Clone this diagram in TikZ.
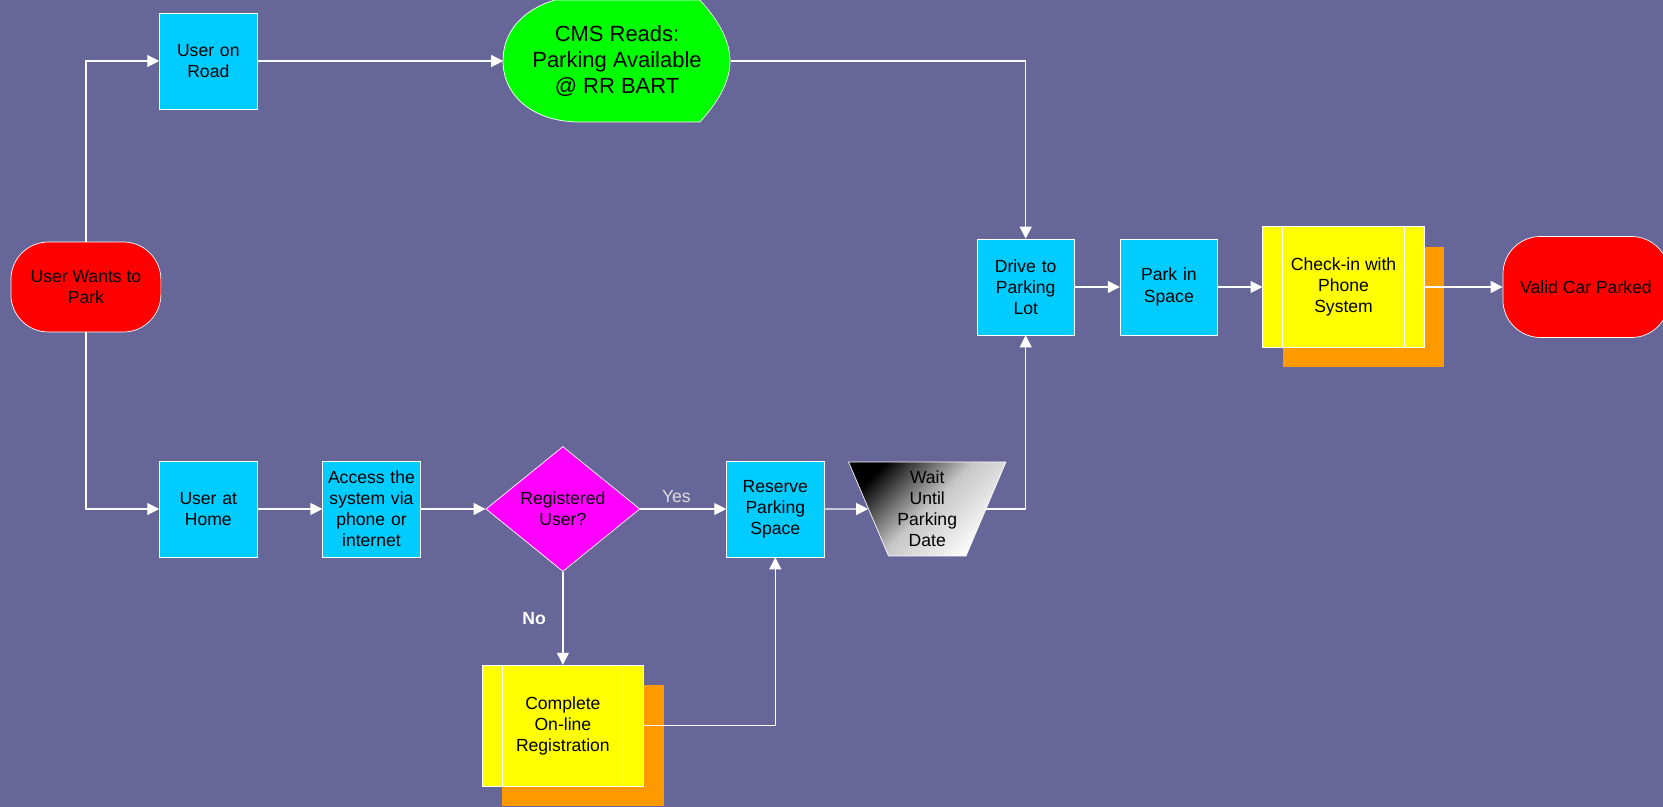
\documentclass[tikz,border=0pt]{standalone}
\usepackage{fontspec}
\setmainfont{Liberation Sans}
\usetikzlibrary{shapes.geometric, shadows, arrows.meta, positioning}
\definecolor{bgblue}{HTML}{666699}
\definecolor{boxcyan}{HTML}{00CCFF}
\definecolor{cmsgreen}{HTML}{00FF00}
\definecolor{decmagenta}{HTML}{FF00FF}
\definecolor{docyellow}{HTML}{FFFF00}
\definecolor{shadoworange}{HTML}{FF9900}
\definecolor{termred}{HTML}{FF0000}
\definecolor{yesgray}{HTML}{DDDDDD}

\begin{document}
\begin{tikzpicture}[
    x=0.02cm, y=-0.02cm,
    font=\fontsize{10}{12}\selectfont,
    proc/.style={rectangle, draw=white, fill=boxcyan, thin, text width=1.8cm, align=center, inner sep=0pt, minimum width=1.95cm, minimum height=1.92cm},
    term/.style={rectangle, draw=white, fill=termred, thin, rounded corners=0.75cm, align=center, inner sep=0pt, minimum width=3cm, minimum height=1.8cm},
    decision/.style={diamond, draw=white, fill=decmagenta, thin, align=center, inner sep=0pt, minimum width=3.08cm, minimum height=2.5cm},
    predef/.style={rectangle, draw=white, fill=docyellow, thin, align=center, minimum width=3.23cm, minimum height=2.42cm,
        drop shadow={shadow xshift=0.4cm, shadow yshift=-0.4cm, fill=shadoworange, opacity=1},
        path picture={\draw[white, thin] ([xshift=0.4cm]path picture bounding box.north west) -- ([xshift=0.4cm]path picture bounding box.south west)
            ([xshift=-0.4cm]path picture bounding box.north east) -- ([xshift=-0.4cm]path picture bounding box.south east);}},
    manual/.style={trapezium, trapezium left angle=112, trapezium right angle=112, trapezium stretches=true,
        draw=white, thin, top color=black, bottom color=white, middle color=black!22, shading angle=45,
        align=center, inner sep=0pt, minimum width=3.15cm, minimum height=1.88cm},
    arrow/.style={-{Triangle[length=6.8pt, width=6.8pt]}, line width=0.7pt, draw=white}
]
    \useasboundingbox (0,0) rectangle (1663,807);
    \fill[bgblue] (0,0) rectangle (1663,807);

    \filldraw[fill=cmsgreen, draw=white, thin] (555,0) -- (700,0) .. controls (718,20) and (730,40) .. (730,61)
        .. controls (730,82) and (718,102) .. (700,122) -- (580,122)
        .. controls (532,122) and (503,95) .. (503,61) .. controls (503,32) and (522,10) .. (555,0) -- cycle;

    \node[term] (start) at (85.9,287) {User Wants to\\Park};
    \node[proc] (road) at (208.3,61) {User on\\Road};
    \node[align=center, inner sep=0pt, minimum width=4.54cm, minimum height=2.44cm, font=\fontsize{12.5}{15}\selectfont] (cms) at (617,61) {CMS Reads:\\Parking Available\\@ RR BART};

    \node[proc] (drive) at (1025.7,287) {Drive to\\Parking\\Lot};
    \node[proc, right=0.9cm of drive] (park) {Park in\\Space};
    \node[predef, right=0.89cm of park] (checkin) {Check-in with\\Phone\\System};
    \node[term, right=1.56cm of checkin, minimum width=3.32cm, minimum height=2.02cm] (valid) {Valid Car Parked};

    \node[proc] (home) at (208.3,509) {User at\\Home};
    \node[proc, right=1.3cm of home] (access) {Access the\\system via\\phone or\\internet};
    \node[decision, right=1.3cm of access] (registered) {Registered\\User?};
    \node[proc, right=1.72cm of registered] (reserve) {Reserve\\Parking\\Space};
    \node[manual] (wait) at (927.25,509) {Wait\\Until\\Parking\\Date};
    \node[predef, below=1.86cm of registered] (online) {Complete\\On-line\\Registration};

    \draw[arrow] (start.north) |- (road.west);
    \draw[arrow] (road) -- (cms);
    \draw[arrow] (cms.east) -| (drive.north);
    \draw[arrow] (start.south) |- (home.west);
    \draw[arrow] (home) -- (access);
    \draw[arrow] (access) -- (registered);
    \draw[arrow] (registered) -- node[above, pos=0.42, text=yesgray] {Yes} (reserve);
    \draw[arrow] (reserve) -- (wait);
    \draw[arrow] (wait) -| (drive.south);
    \draw[arrow] (registered) -- node[left=6pt, font=\bfseries, text=white] {No} (online);
    \draw[arrow] (online) -| (reserve.south);
    \draw[arrow] (drive) -- (park);
    \draw[arrow] (park) -- (checkin);
    \draw[arrow] (checkin) -- (valid);
\end{tikzpicture}
\end{document}
